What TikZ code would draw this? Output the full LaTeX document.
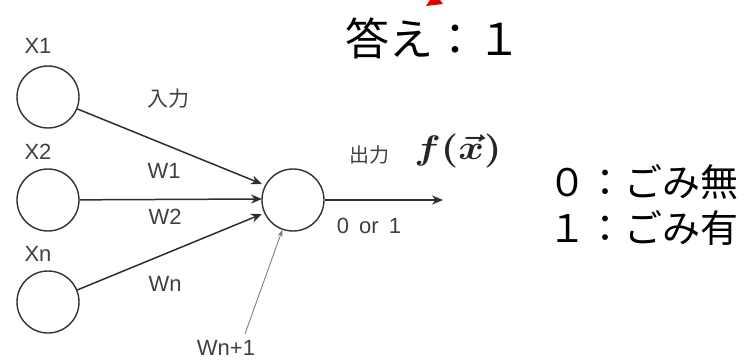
\documentclass[tikz,border=0pt]{standalone}
\usepackage{fontspec}
\setmainfont{Liberation Sans}
\newfontfamily\jp{Noto Sans CJK JP}
\usetikzlibrary{arrows.meta}
\begin{document}
\begin{tikzpicture}[x=1pt,y=-1pt,
  unit/.style={circle,draw=black!80,line width=1.4pt,minimum size=62pt,inner sep=0pt},
  lbl/.style={font=\fontsize{22}{22}\selectfont,text=black!75,inner sep=0pt},
  jlbl/.style={font=\jp\fontsize{21}{21}\selectfont,text=black!75,inner sep=0pt},
  big/.style={font=\jp\fontsize{38}{40}\selectfont,inner sep=0pt,anchor=west},
  conn/.style={draw=black!82,line width=1.5pt,-{Stealth[length=11pt,width=9pt]}},
  thinconn/.style={draw=black!50,line width=0.9pt,-{Stealth[length=7pt,width=5pt]}},
]
\useasboundingbox (0,0) rectangle (753,361);
\fill[white] (0,0) rectangle (753,361);
% red arrow tip partly visible at top
\fill[red!90!black] (426,6) -- (443,4) -- (440,0) -- (430,0) -- cycle;
% units
\node[unit] (x1) at (48,97) {};
\node[unit] (x2) at (48,200) {};
\node[unit] (xn) at (48,302) {};
\node[unit] (h) at (293,200) {};
% labels
\node[lbl] (lx1) at (38,46) {X1};
\node[lbl] (lx2) at (38,152) {X2};
\node[lbl] (lxn) at (38,254) {Xn};
\node[jlbl] (lin) at (168,99) {入力};
\node[lbl] (lw1) at (164,171) {W1};
\node[lbl] (lw2) at (165,217) {W2};
\node[lbl] (lwn) at (165,284) {Wn};
\node[lbl] (lwb) at (226,348) {Wn+1};
\node[jlbl, font=\jp\fontsize{20}{20}\selectfont] (lout) at (369,155) {出力};
\node[inner sep=0pt, text=black!85] (fx) at (458,151) {\scalebox{3.9}[3.4]{\boldmath$f(\vec{x})$}};
\node[lbl] (l01) at (369,226) {0\hspace{4pt} or\hspace{4pt} 1};
% connectors
\coordinate (t1) at (262,184);
\coordinate (t2) at (262,199);
\coordinate (t3) at (262,214);
\coordinate (out) at (443,200);
\coordinate (b) at (245,334);
\draw[conn] (x1) -- (t1);
\draw[conn] (x2) -- (t2);
\draw[conn] (xn) -- (t3);
\draw[conn] (h) -- (out);
\draw[thinconn] (b) -- (h);
% big texts
\node[big, font=\jp\fontsize{44}{46}\selectfont] (ans) at (345,38) {答え：１};
\node[big] (r0) at (548,182) {０：ごみ無};
\node[big] (r1) at (548,228) {１：ごみ有};
\end{tikzpicture}
\end{document}
